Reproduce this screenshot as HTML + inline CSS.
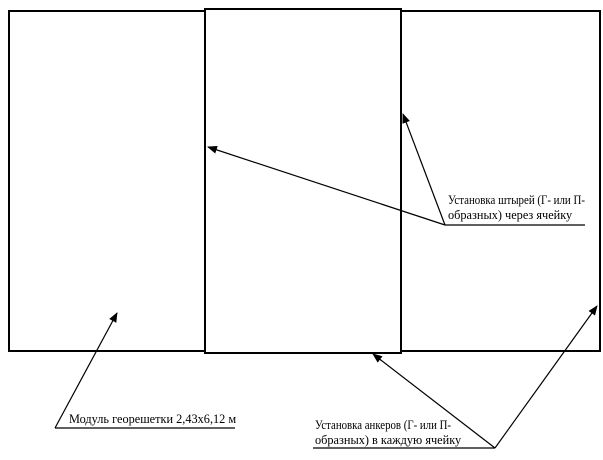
<!DOCTYPE html>
<html><head><meta charset="utf-8"><style>
html,body{margin:0;padding:0;background:#fff;width:603px;height:460px;overflow:hidden}
</style></head><body>
<svg width="603" height="460" xmlns="http://www.w3.org/2000/svg" font-family="Liberation Serif, serif" font-size="12.3" fill="#000">
<defs><marker id="a" markerWidth="10" markerHeight="8" refX="9" refY="4" orient="auto" markerUnits="userSpaceOnUse"><path d="M0,0 L10,4 L0,8 Z" fill="#000"/></marker></defs>
<g fill="none" stroke="#000" stroke-width="2">
<rect x="9" y="11" width="196" height="340"/>
<rect x="205" y="9" width="196" height="344"/>
<rect x="401" y="11" width="199" height="340"/>
</g>
<g stroke="#000" stroke-width="1.2" fill="none">
<line x1="445" y1="225" x2="208" y2="147" marker-end="url(#a)"/>
<line x1="445" y1="225" x2="403" y2="114" marker-end="url(#a)"/>
<line x1="445" y1="225" x2="585" y2="225"/>
<line x1="55" y1="428" x2="117" y2="313" marker-end="url(#a)"/>
<line x1="55" y1="428" x2="235" y2="428"/>
<line x1="495" y1="448" x2="373" y2="354" marker-end="url(#a)"/>
<line x1="495" y1="448" x2="597" y2="306" marker-end="url(#a)"/>
<line x1="313" y1="448" x2="495" y2="448"/>
</g>
<text x="448" y="204" textLength="137" lengthAdjust="spacingAndGlyphs">Установка штырей (Г- или П-</text>
<text x="448" y="219">образных) через ячейку</text>
<text x="69" y="423">Модуль георешетки 2,43х6,12 м</text>
<text x="315" y="429" textLength="136" lengthAdjust="spacingAndGlyphs">Установка анкеров (Г- или П-</text>
<text x="315" y="444">образных) в каждую ячейку</text>
</svg>
</body></html>
